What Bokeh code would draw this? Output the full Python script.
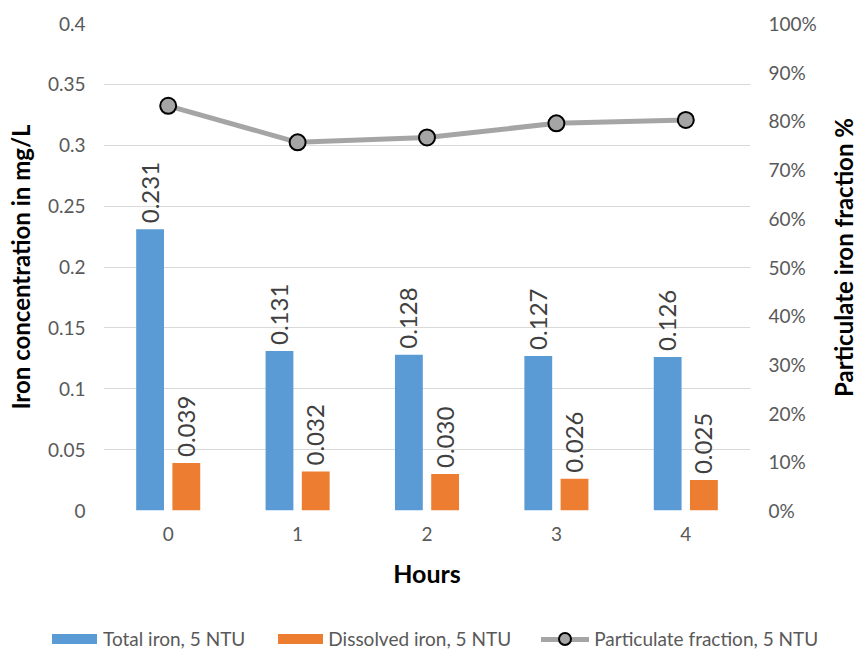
import math

from bokeh.core.properties import value
from bokeh.embed import file_html
from bokeh.layouts import column, row
from bokeh.models import (ColumnDataSource, Div, FixedTicker, Label, LinearAxis,
                          NumeralTickFormatter, Range1d)
from bokeh.plotting import figure
from bokeh.resources import INLINE
from bokeh.transform import dodge

# Iron measurements at 5 NTU over time
hours = [0, 1, 2, 3, 4]
total_iron = [0.231, 0.131, 0.128, 0.127, 0.126]
dissolved_iron = [0.039, 0.032, 0.030, 0.026, 0.025]
particulate_fraction = [0.831, 0.756, 0.766, 0.795, 0.802]

left_ticks = [0, 0.05, 0.1, 0.15, 0.2, 0.25, 0.3, 0.35, 0.4]
right_ticks = [0, 0.1, 0.2, 0.3, 0.4, 0.5, 0.6, 0.7, 0.8, 0.9, 1.0]

series_names = ["Total iron, 5 NTU", "Dissolved iron, 5 NTU",
                "Particulate fraction, 5 NTU"]

BLUE = "#5B9BD5"
ORANGE = "#ED7D31"
GREY = "#A5A5A5"
FONT = "Lato"
TICK_COLOR = "#595959"
LABEL_COLOR = "#404040"

src = ColumnDataSource(dict(
    hour=hours,
    total=total_iron,
    dissolved=dissolved_iron,
    frac=particulate_fraction,
    total_txt=[f"{v:.3f}" for v in total_iron],
    dissolved_txt=[f"{v:.3f}" for v in dissolved_iron],
))

MAIN_W, MAIN_H = 823, 596
TITLE_W = 857 - MAIN_W
LEG_H = 652 - MAIN_H
TOP, BOTTOM = 23, MAIN_H - 510

p = figure(width=MAIN_W, height=MAIN_H, output_backend="svg", toolbar_location=None,
           x_range=Range1d(-0.5, 4.5), y_range=Range1d(0, 0.4),
           min_border_left=103, min_border_right=MAIN_W - 750,
           min_border_top=TOP, min_border_bottom=BOTTOM)
p.extra_y_ranges = {"pct": Range1d(0, 1)}
p.outline_line_color = None
p.background_fill_color = "white"
p.border_fill_color = "white"

# Bars
bw = 0.215
off = 0.14
p.vbar(x=dodge("hour", -off, range=p.x_range), top="total", width=bw,
       bottom=0, source=src, fill_color=BLUE, line_color=None)
p.vbar(x=dodge("hour", off, range=p.x_range), top="dissolved", width=bw,
       bottom=0, source=src, fill_color=ORANGE, line_color=None)

# Value labels above bars, rotated
for col, txt, dx in (("total", "total_txt", -off), ("dissolved", "dissolved_txt", off)):
    p.text(x=dodge("hour", dx, range=p.x_range), y=col, text=txt, source=src,
           angle=math.pi / 2, text_align="left", text_baseline="middle",
           y_offset=-6, text_font=value(FONT), text_font_size="24px",
           text_color=LABEL_COLOR)

# Particulate fraction on the secondary axis
p.line(x="hour", y="frac", source=src, y_range_name="pct",
       line_color=GREY, line_width=5)
p.scatter(x="hour", y="frac", source=src, y_range_name="pct",
          marker="circle", size=16, fill_color=GREY,
          line_color="black", line_width=2)

# Grid
p.xgrid.grid_line_color = None
p.ygrid.grid_line_color = "#D9D9D9"
p.ygrid.grid_line_width = 1
p.ygrid.ticker = FixedTicker(ticks=left_ticks)

# Left axis
ya = p.yaxis[0]
ya.ticker = FixedTicker(ticks=left_ticks)
ya.formatter = NumeralTickFormatter(format="0.[00]")
ya.axis_label = "Iron concentration in mg/L"
ya.axis_label_standoff = 10

# Bottom axis
xa = p.xaxis[0]
xa.ticker = FixedTicker(ticks=hours)
xa.axis_label = "Hours"
xa.axis_label_standoff = 14

# Right axis (its title is drawn in the strip to the right)
ra = LinearAxis(y_range_name="pct", ticker=FixedTicker(ticks=right_ticks),
                formatter=NumeralTickFormatter(format="0%"))
p.add_layout(ra, "right")

for ax in (xa, ya, ra):
    ax.axis_line_color = None
    ax.major_tick_line_color = None
    ax.minor_tick_line_color = None
    ax.major_tick_out = 0
    ax.major_tick_in = 0
    ax.major_label_text_font = FONT
    ax.major_label_text_font_size = "19px"
    ax.major_label_text_color = TICK_COLOR
    ax.major_label_standoff = 18
    ax.axis_label_text_font = FONT
    ax.axis_label_text_font_style = "bold"
    ax.axis_label_text_font_size = "24px"
    ax.axis_label_text_color = "black"
xa.major_label_standoff = 16
xa.axis_label_text_font_size = "25px"

# Narrow strip holding the secondary axis title, reading bottom to top
tfig = figure(width=TITLE_W, height=MAIN_H, output_backend="svg",
              toolbar_location=None, x_range=Range1d(0, 1), y_range=Range1d(0, 1),
              x_axis_location=None, y_axis_location=None,
              min_border_left=0, min_border_right=0,
              min_border_top=TOP, min_border_bottom=BOTTOM,
              outline_line_color=None)
tfig.grid.grid_line_color = None
tfig.add_layout(Label(x=20, y=253, x_units="screen", y_units="screen",
                      text="Particulate iron fraction %", angle=math.pi / 2,
                      text_align="center", text_baseline="middle",
                      text_font=FONT, text_font_style="bold",
                      text_font_size="24px", text_color="black"))

# Legend row under the chart
swatch = "display:inline-block;width:45px;height:10px;background:{c};"
line_swatch = (
    "position:relative;display:inline-block;width:48px;height:5px;"
    f"background:{GREY};"
)
dot = (
    "position:absolute;box-sizing:border-box;left:17px;top:-4.5px;"
    "width:14px;height:14px;border-radius:50%;"
    f"background:{GREY};border:2px solid black;"
)
legend_html = (
    f"<div style=\"display:flex;align-items:center;height:26px;margin-top:30px;"
    f"padding-left:52px;font-family:{FONT};font-size:19px;color:{TICK_COLOR};"
    f"white-space:nowrap;\">"
    f"<span style=\"{swatch.format(c=BLUE)}margin-right:6px;\"></span>"
    f"<span>{series_names[0]}</span>"
    f"<span style=\"{swatch.format(c=ORANGE)}margin-left:33px;margin-right:5px;\"></span>"
    f"<span>{series_names[1]}</span>"
    f"<span style=\"{line_swatch}margin-left:30px;margin-right:5px;\">"
    f"<span style=\"{dot}\"></span></span>"
    f"<span>{series_names[2]}</span>"
    f"</div>"
)
legend_div = Div(text=legend_html, width=857, height=LEG_H, margin=(0, 0, 0, 0))

layout = column(row(p, tfig, spacing=0), legend_div, spacing=0)
open("out.html", "w").write(file_html(layout, INLINE))
